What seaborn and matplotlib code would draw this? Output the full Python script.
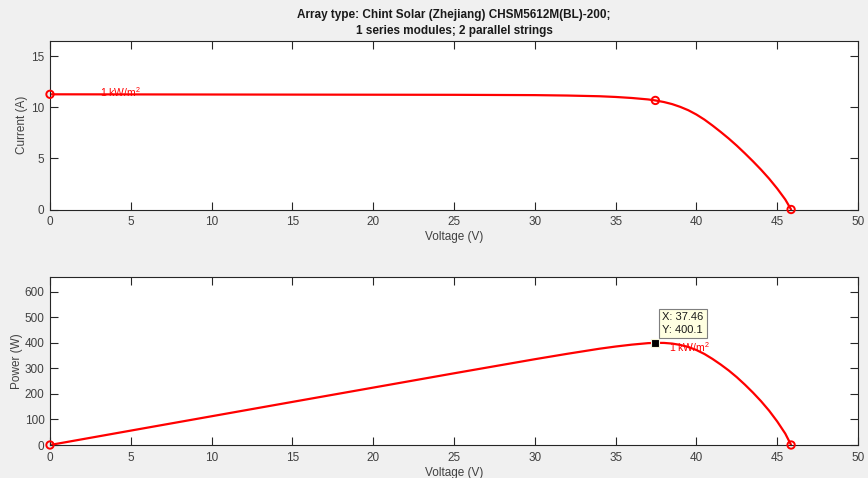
import matplotlib
matplotlib.use("Agg")
import matplotlib.pyplot as plt
import seaborn as sns
import pandas as pd

# ---- data ----
voltage = [0, 5, 10, 15, 20, 25, 30, 32, 34, 35, 36, 37, 37.46, 38, 38.5, 39, 39.5,
           40, 40.5, 41, 41.5, 42, 42.5, 43, 43.5, 44, 44.5, 45, 45.5, 45.86]
current = [11.28, 11.27, 11.26, 11.25, 11.24, 11.23, 11.20, 11.16, 11.09, 11.02, 10.92,
           10.78, 10.68, 10.52, 10.32, 10.05, 9.72, 9.30, 8.80, 8.22, 7.60, 6.95, 6.25,
           5.50, 4.72, 3.90, 3.02, 2.05, 0.98, 0.0]
power = [0.0, 56.4, 112.6, 168.8, 224.8, 280.8, 336.0, 357.1, 377.1, 385.7, 393.1,
         398.9, 400.1, 399.8, 397.3, 392.0, 383.9, 372.0, 356.4, 337.0, 315.4, 291.9,
         265.6, 236.5, 205.3, 171.6, 134.4, 92.3, 44.6, 0.0]
iv_markers_v = [0, 37.46, 45.86]
iv_markers_i = [11.28, 10.68, 0.0]
pv_markers_v = [0, 45.86]
pv_markers_p = [0.0, 0.0]
mpp_v = 37.46
mpp_p = 400.1
irradiance_label = "1 kW/m$^{\\mathregular{2}}$"
title_lines = ["Array type: Chint Solar (Zhejiang) CHSM5612M(BL)-200;",
               "1 series modules; 2 parallel strings"]
x_ticks = [0, 5, 10, 15, 20, 25, 30, 35, 40, 45, 50]
i_ticks = [0, 5, 10, 15]
p_ticks = [0, 100, 200, 300, 400, 500, 600]

df = pd.DataFrame({"Voltage": voltage, "Current": current, "Power": power})

sns.set_theme(style="ticks")
plt.rcParams["font.family"] = ["Liberation Sans", "DejaVu Sans"]

W, H = 868, 478
fig = plt.figure(figsize=(W / 100, H / 100), dpi=100, facecolor="#F0F0F0")

def px_axes(x0, y0, x1, y1):
    return fig.add_axes([x0 / W, 1 - y1 / H, (x1 - x0) / W, (y1 - y0) / H])

ax1 = px_axes(50, 41, 858, 209.5)
ax2 = px_axes(50, 276.5, 858, 445)

axcol = "#262626"
red = "#FF0000"

for ax in (ax1, ax2):
    ax.set_facecolor("white")
    for s in ax.spines.values():
        s.set_color(axcol)
        s.set_linewidth(0.8)
    ax.tick_params(direction="in", length=5.5, width=0.8, colors=axcol,
                   labelsize=8.5, top=True, right=True, labelcolor="#404040", pad=4)
    ax.tick_params(axis="x", pad=5)
    ax.set_xlim(0, 50)
    ax.set_xticks(x_ticks)

sns.lineplot(data=df, x="Voltage", y="Current", ax=ax1, color=red, lw=1.6, sort=False)
sns.scatterplot(x=iv_markers_v, y=iv_markers_i, ax=ax1, marker="o", s=28,
                facecolor="none", edgecolor=red, linewidth=1.4, zorder=5, clip_on=False)
ax1.set_ylim(0, 16.5)
ax1.set_yticks(i_ticks)
ax1.set_xlabel("Voltage (V)", fontsize=8.5, color="#404040", labelpad=2)
ax1.set_ylabel("Current (A)", fontsize=8.5, color="#404040", labelpad=2)
ax1.text(3.1, 11.45, irradiance_label, color=red, fontsize=7.5, ha="left", va="center")

sns.lineplot(data=df, x="Voltage", y="Power", ax=ax2, color=red, lw=1.6, sort=False)
sns.scatterplot(x=pv_markers_v, y=pv_markers_p, ax=ax2, marker="o", s=28,
                facecolor="none", edgecolor=red, linewidth=1.4, zorder=5, clip_on=False)
ax2.set_ylim(0, 660)
ax2.set_yticks(p_ticks)
ax2.set_xlabel("Voltage (V)", fontsize=8.5, color="#404040", labelpad=2)
ax2.set_ylabel("Power (W)", fontsize=8.5, color="#404040", labelpad=1)
ax2.text(38.3, 385, irradiance_label, color=red, fontsize=7.5, ha="left", va="center")

# data tip
ax2.scatter([mpp_v], [mpp_p], marker="s", s=36, color="black", edgecolor="#F5F5DC",
            linewidth=0.8, zorder=6)
ax2.annotate(f"X: {mpp_v}\nY: {mpp_p}", xy=(mpp_v, mpp_p), xytext=(5, 6),
             textcoords="offset points", ha="left", va="bottom", fontsize=8,
             color="#1a1a1a", linespacing=1.3,
             bbox=dict(boxstyle="square,pad=0.3", fc="#FFFFE1", ec="#7F7F7F", lw=0.8),
             zorder=7)

fig.text(454 / W, 1 - 15 / H, title_lines[0], ha="center", va="center",
         fontsize=8.5, fontweight="bold", color="#1a1a1a")
fig.text(454 / W, 1 - 31 / H, title_lines[1], ha="center", va="center",
         fontsize=8.5, fontweight="bold", color="#1a1a1a")

fig.savefig("out.png", dpi=100, facecolor=fig.get_facecolor())
